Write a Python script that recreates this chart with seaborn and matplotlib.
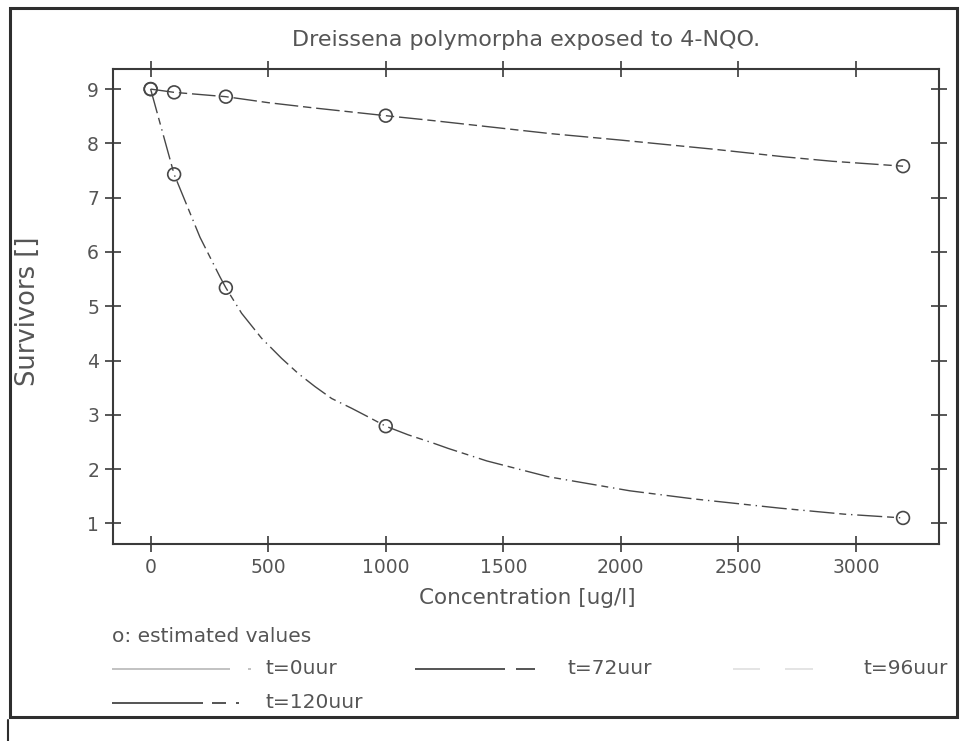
import numpy as np
import pandas as pd
import seaborn as sns
import matplotlib.pyplot as plt
from matplotlib.lines import Line2D

sns.set_style("white")
plt.rcParams['font.family'] = ['DejaVu Sans']

# Observed survivors per concentration (open markers)
conc = [0, 100, 320, 1000, 3200]
surv_72 = [9.0, 8.94, 8.86, 8.51, 7.58]
surv_120 = [9.0, 7.43, 5.34, 2.79, 1.10]

# Fitted dose-response curves
fit_conc_72 = [0, 100, 320, 500, 700, 1000, 1200, 1700, 2000, 2400, 2700, 2900, 3200]
fit_surv_72 = [9.0, 8.94, 8.86, 8.75, 8.65, 8.51, 8.42, 8.18, 8.06, 7.89, 7.75, 7.67, 7.58]
fit_conc_120 = [0, 100, 210, 295, 320, 387, 472, 557, 628, 699, 770, 855, 926, 1000,
                1096, 1201, 1266, 1430, 1690, 2038, 2311, 2677, 2949, 3200]
fit_surv_120 = [9.0, 7.43, 6.27, 5.54, 5.34, 4.87, 4.41, 4.04, 3.76, 3.52, 3.30, 3.12, 2.96, 2.79,
                2.63, 2.48, 2.38, 2.15, 1.86, 1.60, 1.45, 1.28, 1.17, 1.10]

x_ticks = [0, 500, 1000, 1500, 2000, 2500, 3000]
y_ticks = [1, 2, 3, 4, 5, 6, 7, 8, 9]

TXT = "#555555"
INK = "#474747"
FRAME = "#2e2e2e"

fits = pd.concat([
    pd.DataFrame({"conc": fit_conc_72, "surv": fit_surv_72, "t": "t=72uur"}),
    pd.DataFrame({"conc": fit_conc_120, "surv": fit_surv_120, "t": "t=120uur"}),
], ignore_index=True)
obs = pd.concat([
    pd.DataFrame({"conc": conc, "surv": surv_72, "t": "t=72uur"}),
    pd.DataFrame({"conc": conc, "surv": surv_120, "t": "t=120uur"}),
], ignore_index=True)

W, H = 967, 741
fig = plt.figure(figsize=(W / 100, H / 100), dpi=100)
fig.patch.set_facecolor("white")

def fx(px):
    return px / W

def fy(py):
    return 1 - py / H

ax = fig.add_axes([fx(113), fy(544), fx(939) - fx(113), fy(69) - fy(544)])

sns.lineplot(data=fits, x="conc", y="surv", style="t",
             dashes={"t=72uur": (17, 3.5, 6, 3.5), "t=120uur": (18, 3.5, 5, 3.5, 1, 3.5)},
             color=INK, linewidth=1.0, sort=False, estimator=None, legend=False, ax=ax)
sns.scatterplot(data=obs, x="conc", y="surv", marker="o", s=85,
                facecolors="none", edgecolors=INK, linewidths=1.2, legend=False, ax=ax, zorder=3)

ax.set_xlim(-160, 3353)
ax.set_ylim(0.62, 9.37)
ax.set_xticks(x_ticks)
ax.set_yticks(y_ticks)
ax.tick_params(direction="inout", length=12, width=1.2, color="#3a3a3a",
               top=True, right=True, bottom=True, left=True,
               labelsize=13.5, labelcolor=TXT, pad=4)
for sp in ax.spines.values():
    sp.set_color("#3a3a3a")
    sp.set_linewidth(1.5)

ax.set_xlabel("Concentration [ug/l]", fontsize=15.5, color=TXT, va="center")
ax.xaxis.set_label_coords(0.502, -0.114)
ax.set_ylabel("Survivors []", fontsize=18.5, color=TXT, va="center")
ax.yaxis.set_label_coords(-0.1035, 0.49)
ax.text(0.5, 1.061, "Dreissena polymorpha exposed to 4-NQO.", transform=ax.transAxes,
        ha="center", va="center", fontsize=16, color=TXT)

# Legend block below the plot
fig.text(fx(112), fy(637), "o: estimated values", fontsize=14.5, color=TXT, va="center")

def seg(x0, x1, y, color, lw=1.3):
    fig.add_artist(Line2D([fx(x0), fx(x1)], [fy(y), fy(y)], transform=fig.transFigure,
                          color=color, linewidth=lw, solid_capstyle="butt"))

r1, r2 = 669, 703
seg(112, 230, r1, "#bdbdbd")
seg(248, 251, r1, "#bdbdbd")
fig.text(fx(265), fy(r1), "t=0uur", fontsize=14.5, color=TXT, va="center")

seg(415, 505, r1, INK)
seg(516, 535, r1, INK)
fig.text(fx(567), fy(r1), "t=72uur", fontsize=14.5, color=TXT, va="center")

seg(733, 760, r1, "#e2e2e2")
seg(785, 813, r1, "#e2e2e2")
fig.text(fx(948), fy(r1), "t=96uur", fontsize=14.5, color=TXT, va="center", ha="right")

seg(112, 203, r2, INK)
seg(212, 226, r2, INK)
seg(236, 239, r2, INK)
fig.text(fx(265), fy(r2), "t=120uur", fontsize=14.5, color=TXT, va="center")

# Outer frame
fig.add_artist(plt.Rectangle((fx(10), fy(717)), fx(957) - fx(10), fy(8) - fy(717),
                             transform=fig.transFigure, fill=False, edgecolor=FRAME, linewidth=2.2))
fig.add_artist(Line2D([fx(8), fx(8)], [fy(720), fy(741)], transform=fig.transFigure,
                      color=FRAME, linewidth=1.5))

fig.savefig("out.png", dpi=100, facecolor="white")
